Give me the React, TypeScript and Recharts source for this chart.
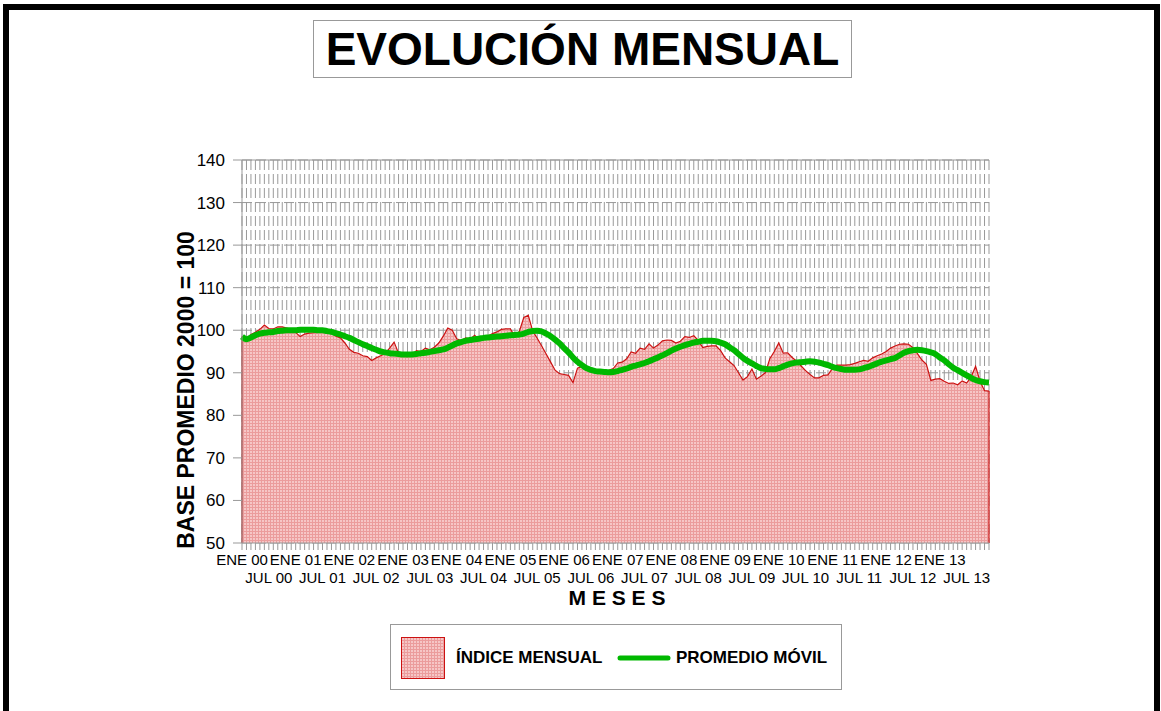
import React from 'react';
import { ComposedChart, Area, Line, XAxis, YAxis, CartesianGrid, ReferenceLine } from 'recharts';

const mesesNombres = ['ENE', 'FEB', 'MAR', 'ABR', 'MAY', 'JUN', 'JUL', 'AGO', 'SEP', 'OCT', 'NOV', 'DIC'];
const anios = ['00', '01', '02', '03', '04', '05', '06', '07', '08', '09', '10', '11', '12', '13'];

// índice mensual, ENE 00 .. DIC 13
const indiceMensual = [
  98.5, 98.0, 99.0, 99.5, 100.2, 101.2, 100.4, 100.3, 100.8, 100.8, 100.5, 100.2,
  99.5, 98.5, 99.1, 99.3, 99.4, 99.5, 100.0, 100.2, 99.6, 98.6, 98.2, 97.0,
  95.5, 94.8, 94.6, 94.0, 93.8, 92.9, 93.5, 94.0, 94.5, 95.8, 97.2, 94.6,
  93.9, 93.8, 94.2, 95.2, 95.0, 95.8, 95.4, 96.0, 97.0, 98.6, 100.5, 100.0,
  98.0, 97.6, 98.2, 97.9, 98.8, 97.9, 97.8, 98.6, 99.2, 99.6, 100.2, 100.3,
  100.3, 98.5, 99.7, 103.0, 103.5, 99.8, 98.1, 96.3, 94.4, 92.5, 90.6, 89.8,
  89.6, 89.4, 87.7, 91.1, 91.5, 91.3, 90.8, 90.5, 90.3, 90.4, 90.6, 91.0,
  92.3, 92.5, 93.3, 94.9, 94.6, 95.8, 95.5, 96.8, 95.8, 96.5, 97.5, 97.7,
  97.6, 97.0, 97.4, 98.5, 98.3, 98.7, 97.6, 95.9, 96.2, 96.3, 96.3, 95.2,
  93.5, 92.6, 91.7, 90.0, 88.3, 89.1, 90.9, 88.5, 89.2, 90.0, 93.3, 95.0,
  97.0, 94.6, 94.7, 93.6, 92.7, 91.6, 90.5, 89.6, 88.8, 88.8, 89.4, 89.5,
  91.0, 91.8, 91.8, 91.8, 91.9, 92.2, 92.6, 92.9, 92.7, 93.5, 94.0, 94.4,
  95.0, 95.8, 96.3, 96.7, 96.8, 96.7, 95.9, 94.5, 93.0, 92.0, 88.2, 88.5,
  88.6, 88.0, 87.5, 87.6, 87.2, 88.1, 87.6, 89.0, 91.5, 88.0, 85.8, 85.7,
];

// promedio móvil
const promedioMovil = [
  98.5, 97.9, 98.3, 98.8, 99.2, 99.4, 99.5, 99.6, 99.8, 99.9, 100.0, 100.0,
  100.0, 100.1, 100.1, 100.1, 100.1, 100.0, 100.0, 99.8, 99.6, 99.3, 99.0, 98.6,
  98.2, 97.7, 97.2, 96.7, 96.3, 95.8, 95.4, 95.0, 94.8, 94.6, 94.5, 94.4,
  94.3, 94.3, 94.3, 94.4, 94.6, 94.7, 94.9, 95.1, 95.3, 95.5, 95.9, 96.4,
  96.9, 97.2, 97.5, 97.7, 97.9, 98.0, 98.2, 98.3, 98.4, 98.5, 98.6, 98.7,
  98.8, 98.9, 99.0, 99.2, 99.6, 99.8, 99.9, 99.7, 99.2, 98.6, 97.8, 96.9,
  95.8, 94.8, 93.6, 92.6, 91.8, 91.1, 90.7, 90.4, 90.3, 90.2, 90.1, 90.2,
  90.4, 90.7, 91.0, 91.4, 91.7, 92.0, 92.3, 92.7, 93.2, 93.6, 94.1, 94.6,
  95.2, 95.7, 96.1, 96.5, 96.8, 97.1, 97.3, 97.5, 97.5, 97.5, 97.4, 97.1,
  96.7, 96.0, 95.3, 94.4, 93.5, 92.8, 92.2, 91.6, 91.1, 90.9, 90.8, 90.8,
  91.1, 91.5, 91.9, 92.2, 92.4, 92.5, 92.6, 92.7, 92.6, 92.4, 92.1, 91.8,
  91.4, 91.1, 90.9, 90.7, 90.7, 90.7, 90.8, 91.1, 91.4, 91.8, 92.2, 92.6,
  92.9, 93.2, 93.5, 94.1, 94.7, 95.1, 95.3, 95.4, 95.3, 95.1, 94.8, 94.4,
  93.6, 92.9, 92.0, 91.2, 90.6, 90.0, 89.4, 88.8, 88.3, 88.0, 87.8, 87.7,
];

const yTicks = [50, 60, 70, 80, 90, 100, 110, 120, 130, 140];

const categorias = anios.flatMap((a) => mesesNombres.map((m) => `${m} ${a}`));
const data = categorias.map((mes, i) => ({ mes, indice: indiceMensual[i], promedio: promedioMovil[i] }));

const FONT = "'Liberation Sans', Arial, sans-serif";
const ROJO = '#cc1111';
const VERDE = '#00b800';
const GRIS = '#999999';

const MesTick = ({ x, y, payload }: any) => {
  const label: string = payload.value;
  const ene = label.startsWith('ENE');
  const jul = label.startsWith('JUL');
  if (!ene && !jul) return <g />;
  return (
    <text x={x} y={ene ? y + 13 : y + 31} textAnchor="middle" fontSize={15} fontFamily={FONT} fill="#000">
      {label}
    </text>
  );
};

const PatternDefs = () => (
  <svg width={0} height={0} style={{ position: 'absolute' }}>
    <defs>
      <pattern id="rejillaRoja" width={3} height={3} patternUnits="userSpaceOnUse">
        <rect width={3} height={3} fill="#f6c6c6" />
        <path d="M0 0.5H3M0.5 0V3" stroke="#eb9c9c" strokeWidth={1} />
      </pattern>
    </defs>
  </svg>
);

export default function App() {
  const last = categorias.length - 1;
  return (
    <div style={{ position: 'absolute', left: 0, top: 0, width: 1161, height: 711, background: '#fff', overflow: 'hidden', fontFamily: FONT }}>
      <PatternDefs />
      <div style={{ position: 'absolute', left: 3, top: 4, width: 1157, height: 760, border: '6px solid #000', boxSizing: 'border-box' }} />

      <div style={{ position: 'absolute', left: 313, top: 20, width: 539, height: 58, border: '1px solid #999', boxSizing: 'border-box', display: 'flex', alignItems: 'center', justifyContent: 'center', fontSize: 46, fontWeight: 'bold', color: '#000' }}>
        EVOLUCIÓN MENSUAL
      </div>

      <div style={{ position: 'absolute', left: 0, top: 0 }}>
        <ComposedChart width={1161} height={711} data={data} margin={{ top: 160, right: 172, bottom: 128, left: 182 }}>
          <CartesianGrid stroke={GRIS} strokeDasharray="10 4" />
          <XAxis
            dataKey="mes"
            scale="point"
            interval={0}
            height={40}
            tick={<MesTick />}
            tickSize={7}
            tickMargin={2}
            stroke={GRIS}
          />
          <YAxis
            domain={[50, 140]}
            ticks={yTicks}
            width={60}
            tickSize={9}
            tickMargin={8}
            stroke={GRIS}
            tick={{ fill: '#000', fontSize: 17, fontFamily: FONT }}
          />
          <ReferenceLine y={140} stroke={GRIS} strokeWidth={1} />
          <Area
            type="linear"
            dataKey="indice"
            stroke={ROJO}
            strokeWidth={1.2}
            fill="url(#rejillaRoja)"
            fillOpacity={1}
            isAnimationActive={false}
          />
          <ReferenceLine segment={[{ x: categorias[last], y: 50 }, { x: categorias[last], y: indiceMensual[last] }]} stroke={ROJO} strokeWidth={1.2} />
          <ReferenceLine segment={[{ x: categorias[0], y: 50 }, { x: categorias[0], y: indiceMensual[0] }]} stroke={ROJO} strokeWidth={1.2} />
          <Line
            type="monotone"
            dataKey="promedio"
            stroke={VERDE}
            strokeWidth={6}
            dot={false}
            isAnimationActive={false}
          />
        </ComposedChart>
      </div>

      <div style={{ position: 'absolute', left: 186, top: 390, transform: 'translate(-50%, -50%) rotate(-90deg)', whiteSpace: 'nowrap', fontSize: 23, fontWeight: 'bold', color: '#000' }}>
        BASE PROMEDIO 2000 = 100
      </div>

      <div style={{ position: 'absolute', left: 617, top: 598, transform: 'translate(-50%, -50%)', whiteSpace: 'pre', fontSize: 21, fontWeight: 'bold', color: '#000' }}>
        M E S E S
      </div>

      <div style={{ position: 'absolute', left: 390, top: 624, width: 452, height: 66, border: '1px solid #999', boxSizing: 'border-box', background: '#fff' }}>
        <svg width={44} height={42} style={{ position: 'absolute', left: 10, top: 12 }}>
          <rect x={0.5} y={0.5} width={43} height={41} fill="url(#rejillaRoja)" stroke={ROJO} strokeWidth={1} />
        </svg>
        <div style={{ position: 'absolute', left: 65, top: 33, transform: 'translateY(-50%)', fontSize: 17, fontWeight: 'bold', whiteSpace: 'nowrap', color: '#000' }}>
          ÍNDICE MENSUAL
        </div>
        <svg width={56} height={10} style={{ position: 'absolute', left: 225, top: 28 }}>
          <line x1={4} y1={5} x2={52} y2={5} stroke={VERDE} strokeWidth={5} strokeLinecap="round" />
        </svg>
        <div style={{ position: 'absolute', left: 285, top: 33, transform: 'translateY(-50%)', fontSize: 17, fontWeight: 'bold', whiteSpace: 'nowrap', color: '#000' }}>
          PROMEDIO MÓVIL
        </div>
      </div>
    </div>
  );
}
